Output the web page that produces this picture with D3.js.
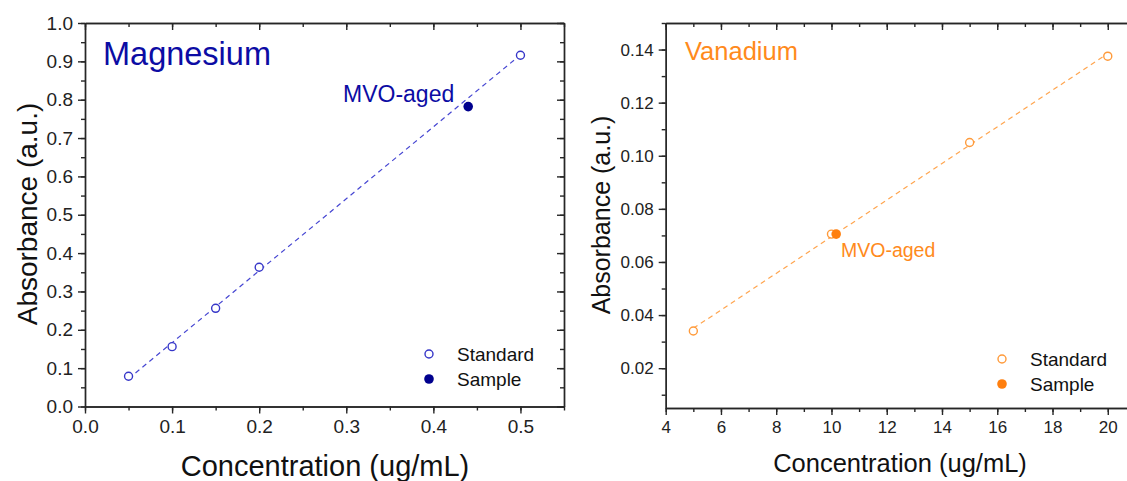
<!DOCTYPE html>
<html>
<head>
<meta charset="utf-8">
<script src="https://cdn.jsdelivr.net/npm/d3@7"></script>
<style>
  body { margin: 0; background: #fff; }
  svg { display: block; font-family: "Liberation Sans", Arial, sans-serif; }
  .axis path, .axis line { stroke: #262626; stroke-width: 1.4; }
  .axis text { fill: #222; }
</style>
</head>
<body>
<svg width="1127" height="481"></svg>
<script>
// Magnesium calibration
const mg_std_x = [0.05, 0.1, 0.15, 0.2, 0.5];
const mg_std_y = [0.079, 0.156, 0.256, 0.363, 0.916];
const mg_sample_x = [0.44];
const mg_sample_y = [0.782];
const mg_x_ticks = [0, 0.1, 0.2, 0.3, 0.4, 0.5];
const mg_y_ticks = [0, 0.1, 0.2, 0.3, 0.4, 0.5, 0.6, 0.7, 0.8, 0.9, 1.0];

// Vanadium calibration
const v_std_x = [5, 10, 15, 20];
const v_std_y = [0.034, 0.0705, 0.105, 0.1375];
const v_sample_x = [10.17];
const v_sample_y = [0.0705];
const v_x_ticks = [4, 6, 8, 10, 12, 14, 16, 18, 20];
const v_y_ticks = [0.02, 0.04, 0.06, 0.08, 0.10, 0.12, 0.14];

const svg = d3.select("svg");

const panels = [
    {
        name: "Magnesium",
        stdX: mg_std_x, stdY: mg_std_y, smpX: mg_sample_x, smpY: mg_sample_y,
        xDomain: [0, 0.55], yDomain: [0, 1.0],
        xRange: [85, 564], yRange: [406.5, 23],
        xTicks: mg_x_ticks, yTicks: mg_y_ticks,
        xMinor: d3.range(0, 0.5501, 0.05), yMinor: d3.range(0, 1.0001, 0.05),
        xFmt: d3.format(".1f"), yFmt: d3.format(".1f"),
        tickFont: 19, titleFont: 28,
        titleColor: "#0c0ca4", stdColor: "#3636c8", smpColor: "#00008e", lineColor: "#4646d2",
        title: { x: 103, y: 65, size: 32.5 },
        label: { x: 343, y: 102, size: 23 },
        legend: { x: 429, y: 354, dy: 25, tx: 457, size: 19 },
        yTitle: { x: 37, y: 214 },
        xTitle: { x: 325, y: 476, size: 29 },
        mirrorRight: true
    },
    {
        name: "Vanadium",
        stdX: v_std_x, stdY: v_std_y, smpX: v_sample_x, smpY: v_sample_y,
        xDomain: [4, 21], yDomain: [0.005, 0.15],
        xRange: [665.7, 1135.4], yRange: [408, 23],
        xTicks: v_x_ticks, yTicks: v_y_ticks,
        xMinor: d3.range(4, 21.01, 1), yMinor: d3.range(0.01, 0.1501, 0.01),
        xFmt: d3.format("d"), yFmt: d3.format(".2f"),
        tickFont: 17, titleFont: 25,
        titleColor: "#ff8a1c", stdColor: "#ff9a3a", smpColor: "#ff7f0e", lineColor: "#ffa54f",
        title: { x: 685, y: 60, size: 25.5 },
        label: { x: 841, y: 257, size: 19.5 },
        legend: { x: 1002, y: 359, dy: 25, tx: 1030, size: 19 },
        yTitle: { x: 610, y: 215 },
        xTitle: { x: 900, y: 472, size: 25.5 },
        mirrorRight: false
    }
];

panels.forEach(p => draw_panel(p));

function draw_panel(p) {
    const x = d3.scaleLinear().domain(p.xDomain).range(p.xRange);
    const y = d3.scaleLinear().domain(p.yDomain).range(p.yRange);
    const [x0, x1] = p.xRange;
    const [y0, y1] = p.yRange;

    // minor ticks first, majors on top
    svg.append("g").attr("class", "axis")
        .attr("transform", "translate(0," + y0 + ")")
        .call(d3.axisBottom(x).tickValues(p.xMinor).tickSize(4).tickSizeOuter(0).tickFormat(""));
    svg.append("g").attr("class", "axis")
        .attr("transform", "translate(" + x0 + ",0)")
        .call(d3.axisLeft(y).tickValues(p.yMinor).tickSize(4).tickSizeOuter(0).tickFormat(""));
    svg.append("g").attr("class", "axis")
        .attr("transform", "translate(0," + y1 + ")")
        .call(d3.axisTop(x).tickValues(p.xMinor).tickSize(-4).tickSizeOuter(0).tickFormat(""));

    const xAxis = svg.append("g").attr("class", "axis")
        .attr("transform", "translate(0," + y0 + ")")
        .call(d3.axisBottom(x).tickValues(p.xTicks).tickSize(7).tickSizeOuter(0).tickPadding(6).tickFormat(p.xFmt));
    xAxis.selectAll("text").style("font-size", p.tickFont + "px");

    const yAxis = svg.append("g").attr("class", "axis")
        .attr("transform", "translate(" + x0 + ",0)")
        .call(d3.axisLeft(y).tickValues(p.yTicks).tickSize(7).tickSizeOuter(0).tickPadding(5).tickFormat(p.yFmt));
    yAxis.selectAll("text").style("font-size", p.tickFont + "px");

    svg.append("g").attr("class", "axis")
        .attr("transform", "translate(0," + y1 + ")")
        .call(d3.axisTop(x).tickValues(p.xTicks).tickSize(-7).tickSizeOuter(0).tickFormat(""));

    if (p.mirrorRight) {
        svg.append("g").attr("class", "axis")
            .attr("transform", "translate(" + x1 + ",0)")
            .call(d3.axisRight(y).tickValues(p.yMinor).tickSize(-4).tickSizeOuter(0).tickFormat(""));
        svg.append("g").attr("class", "axis")
            .attr("transform", "translate(" + x1 + ",0)")
            .call(d3.axisRight(y).tickValues(p.yTicks).tickSize(-7).tickSizeOuter(0).tickFormat(""));
    }

    // linear fit through the standards
    const mx = d3.mean(p.stdX), my = d3.mean(p.stdY);
    const sxy = d3.sum(p.stdX, (v, i) => (v - mx) * (p.stdY[i] - my));
    const sxx = d3.sum(p.stdX, v => (v - mx) * (v - mx));
    const slope = sxy / sxx, icpt = my - slope * mx;
    const fx = d3.extent(p.stdX);
    svg.append("path")
        .attr("d", d3.line().x(d => x(d)).y(d => y(slope * d + icpt))(fx))
        .attr("fill", "none")
        .attr("stroke", p.lineColor)
        .attr("stroke-width", 1.2)
        .attr("stroke-dasharray", "5,4");

    svg.append("g").selectAll("circle")
        .data(p.stdX.map((v, i) => [v, p.stdY[i]]))
        .join("circle")
        .attr("cx", d => x(d[0]))
        .attr("cy", d => y(d[1]))
        .attr("r", 4)
        .attr("fill", "#fff")
        .attr("stroke", p.stdColor)
        .attr("stroke-width", 1.4);

    svg.append("g").selectAll("circle")
        .data(p.smpX.map((v, i) => [v, p.smpY[i]]))
        .join("circle")
        .attr("cx", d => x(d[0]))
        .attr("cy", d => y(d[1]))
        .attr("r", 4.8)
        .attr("fill", p.smpColor);

    svg.append("text")
        .attr("x", p.title.x).attr("y", p.title.y)
        .style("font-size", p.title.size + "px")
        .attr("fill", p.titleColor)
        .text(p.name);

    svg.append("text")
        .attr("x", p.label.x).attr("y", p.label.y)
        .style("font-size", p.label.size + "px")
        .attr("fill", p.titleColor)
        .text("MVO-aged");

    // legend
    const lg = p.legend;
    svg.append("circle").attr("cx", lg.x).attr("cy", lg.y).attr("r", 4)
        .attr("fill", "#fff").attr("stroke", p.stdColor).attr("stroke-width", 1.4);
    svg.append("circle").attr("cx", lg.x).attr("cy", lg.y + lg.dy).attr("r", 4.8)
        .attr("fill", p.smpColor);
    svg.append("text").attr("x", lg.tx).attr("y", lg.y + 7)
        .style("font-size", lg.size + "px").attr("fill", "#111").text("Standard");
    svg.append("text").attr("x", lg.tx).attr("y", lg.y + lg.dy + 7)
        .style("font-size", lg.size + "px").attr("fill", "#111").text("Sample");

    // axis titles
    svg.append("text")
        .attr("transform", "translate(" + p.yTitle.x + "," + p.yTitle.y + ") rotate(-90)")
        .attr("text-anchor", "middle")
        .style("font-size", p.titleFont + "px")
        .attr("fill", "#111")
        .text("Absorbance (a.u.)");

    svg.append("text")
        .attr("x", p.xTitle.x)
        .attr("y", p.xTitle.y)
        .attr("text-anchor", "middle")
        .style("font-size", p.xTitle.size + "px")
        .attr("fill", "#111")
        .text("Concentration (ug/mL)");
}
</script>
</body>
</html>
